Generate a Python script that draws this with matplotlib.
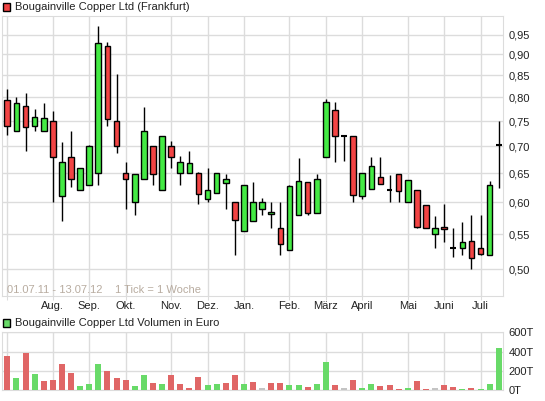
import numpy as np
import matplotlib
matplotlib.use("Agg")
import matplotlib.pyplot as plt
from matplotlib.ticker import NullLocator

plt.rcParams['font.family'] = ['Liberation Sans', 'DejaVu Sans']

# Wochenkerzen 01.07.11 - 13.07.12
opens = [0.794, 0.730, 0.781, 0.739, 0.730, 0.751, 0.611, 0.680, 0.621, 0.630,
         0.650, 0.921, 0.750, 0.650, 0.600, 0.640, 0.700, 0.621, 0.700, 0.650,
         0.650, 0.650, 0.605, 0.615, 0.633, 0.600, 0.555, 0.570, 0.590, 0.581,
         0.559, 0.527, 0.580, 0.634, 0.583, 0.680, 0.773, 0.720, 0.719, 0.610,
         0.622, 0.643, 0.621, 0.648, 0.600, 0.621, 0.596, 0.550, 0.561, 0.530,
         0.530, 0.540, 0.530, 0.520, 0.703]
highs = [0.819, 0.800, 0.810, 0.775, 0.787, 0.771, 0.708, 0.730, 0.660, 0.702,
         0.973, 0.932, 0.852, 0.670, 0.649, 0.780, 0.700, 0.720, 0.710, 0.681,
         0.690, 0.652, 0.660, 0.650, 0.649, 0.600, 0.629, 0.635, 0.608, 0.600,
         0.600, 0.629, 0.678, 0.634, 0.649, 0.797, 0.790, 0.720, 0.720, 0.650,
         0.680, 0.680, 0.647, 0.648, 0.638, 0.621, 0.596, 0.578, 0.598, 0.559,
         0.568, 0.580, 0.580, 0.636, 0.750]
lows = [0.721, 0.730, 0.690, 0.730, 0.730, 0.600, 0.570, 0.626, 0.621, 0.630,
        0.630, 0.739, 0.687, 0.590, 0.579, 0.640, 0.629, 0.621, 0.660, 0.630,
        0.650, 0.598, 0.600, 0.615, 0.590, 0.519, 0.555, 0.570, 0.579, 0.559,
        0.520, 0.527, 0.580, 0.580, 0.583, 0.680, 0.671, 0.672, 0.600, 0.605,
        0.622, 0.631, 0.600, 0.600, 0.600, 0.559, 0.559, 0.530, 0.539, 0.517,
        0.520, 0.500, 0.520, 0.520, 0.625]
closes = [0.739, 0.789, 0.738, 0.758, 0.756, 0.680, 0.671, 0.640, 0.660, 0.700,
          0.928, 0.755, 0.700, 0.640, 0.649, 0.730, 0.649, 0.720, 0.680, 0.671,
          0.669, 0.614, 0.621, 0.650, 0.640, 0.572, 0.629, 0.600, 0.600, 0.584,
          0.536, 0.627, 0.636, 0.583, 0.640, 0.790, 0.720, 0.720, 0.612, 0.650,
          0.663, 0.631, 0.621, 0.619, 0.638, 0.561, 0.559, 0.559, 0.558, 0.530,
          0.538, 0.516, 0.521, 0.629, 0.703]
# Volumen in Tausend Euro
volume = [351, 130, 382, 172, 98, 109, 267, 182, 46, 67,
          277, 204, 130, 109, 46, 161, 77, 67, 161, 67,
          25, 140, 56, 67, 77, 161, 67, 88, 25, 77,
          77, 56, 56, 35, 67, 288, 56, 25, 109, 25,
          67, 46, 56, 10, 25, 98, 10, 25, 56, 35,
          14, 25, 14, 67, 435]

month_pos = [0, 5, 9, 13, 18, 22, 26, 31, 35, 39, 44, 48, 52]
month_labels = ['', 'Aug.', 'Sep.', 'Okt.', 'Nov.', 'Dez.', 'Jan.', 'Feb.',
                'März', 'April', 'Mai', 'Juni', 'Juli']
price_ticks = [0.50, 0.55, 0.60, 0.65, 0.70, 0.75, 0.80, 0.85, 0.90, 0.95]
vol_ticks = [0, 200, 400, 600]

RED = '#f24444'
GREEN = '#44ea44'
VRED = '#e06666'
VGREEN = '#68da68'
VGRAY = '#c4c4c4'
GRID = '#dcdcdc'

fig = plt.figure(figsize=(5.45, 4.01), dpi=100)
ax = fig.add_axes([2.3 / 545, 1 - 296 / 401, 501 / 545, 280 / 401])
axv = fig.add_axes([2.3 / 545, 1 - 390.3 / 401, 501 / 545, 58 / 401])

x = np.arange(len(closes))
o = np.array(opens)
c = np.array(closes)
w = 0.62

# Dochte
ax.vlines(x, lows, highs, color='black', lw=1, zorder=2)
# Körper
up = c > o
dn = c < o
ax.bar(x[up], (c - o)[up], bottom=o[up], width=w, color=GREEN,
       edgecolor='black', lw=1, zorder=3)
ax.bar(x[dn], (o - c)[dn], bottom=c[dn], width=w, color=RED,
       edgecolor='black', lw=1, zorder=3)
flat = c == o
ax.hlines(c[flat], x[flat] - w / 2, x[flat] + w / 2, color='black', lw=1.5, zorder=3)

ax.set_yscale('log')
ax.set_ylim(0.4644, 1.0)
ax.set_xlim(-0.55, 54.5)
ax.set_yticks(price_ticks)
ax.set_yticklabels([f"{t:.2f}".replace('.', ',') for t in price_ticks])
ax.yaxis.set_minor_locator(NullLocator())
ax.yaxis.tick_right()
ax.set_xticks(month_pos)
ax.set_xticklabels(month_labels)
ax.grid(True, color=GRID, lw=1, zorder=0)
ax.set_axisbelow(True)
ax.tick_params(axis='y', length=0, pad=4, labelsize=8, colors='#222222')
ax.tick_params(axis='x', length=3, color=GRID, pad=0.5, labelsize=8, labelcolor='#222222')
for s in ax.spines.values():
    s.set_color(GRID)

ax.text(0.0, 0.472, '01.07.11 - 13.07.12    1 Tick = 1 Woche', color='#b8aca0',
        fontsize=8, va='center', ha='left', zorder=1)

# Volumen
vcols = []
for i in range(len(c)):
    ref = o[i] if i == 0 else c[i - 1]
    if c[i] > ref:
        vcols.append(VGREEN)
    elif c[i] < ref:
        vcols.append(VRED)
    else:
        vcols.append(VGRAY)
axv.bar(x, volume, width=0.66, color=vcols, zorder=3)
axv.set_xlim(-0.55, 54.5)
axv.set_ylim(0, 600)
axv.set_yticks(vol_ticks)
axv.set_yticklabels([f"{t}T" for t in vol_ticks])
axv.yaxis.tick_right()
axv.set_xticks(month_pos)
axv.set_xticklabels([])
axv.grid(True, color=GRID, lw=1, zorder=0)
axv.set_axisbelow(True)
axv.tick_params(axis='y', length=0, pad=4, labelsize=8, colors='#222222')
axv.tick_params(axis='x', length=0)
for s in axv.spines.values():
    s.set_color(GRID)

# Legenden
fig.patches.append(plt.Rectangle((3 / 545, 1 - 11 / 401), 7 / 545, 8 / 401,
                                 transform=fig.transFigure, facecolor=RED,
                                 edgecolor='black', lw=1))
fig.text(15 / 545, 1 - 7 / 401, 'Bougainville Copper Ltd (Frankfurt)', fontsize=8,
         va='center', ha='left', color='#222222')
fig.patches.append(plt.Rectangle((3 / 545, 1 - 327 / 401), 7 / 545, 8 / 401,
                                 transform=fig.transFigure, facecolor=VGREEN,
                                 edgecolor='black', lw=1))
fig.text(15 / 545, 1 - 323 / 401, 'Bougainville Copper Ltd Volumen in Euro', fontsize=8,
         va='center', ha='left', color='#222222')

fig.savefig('out.png', dpi=100)
